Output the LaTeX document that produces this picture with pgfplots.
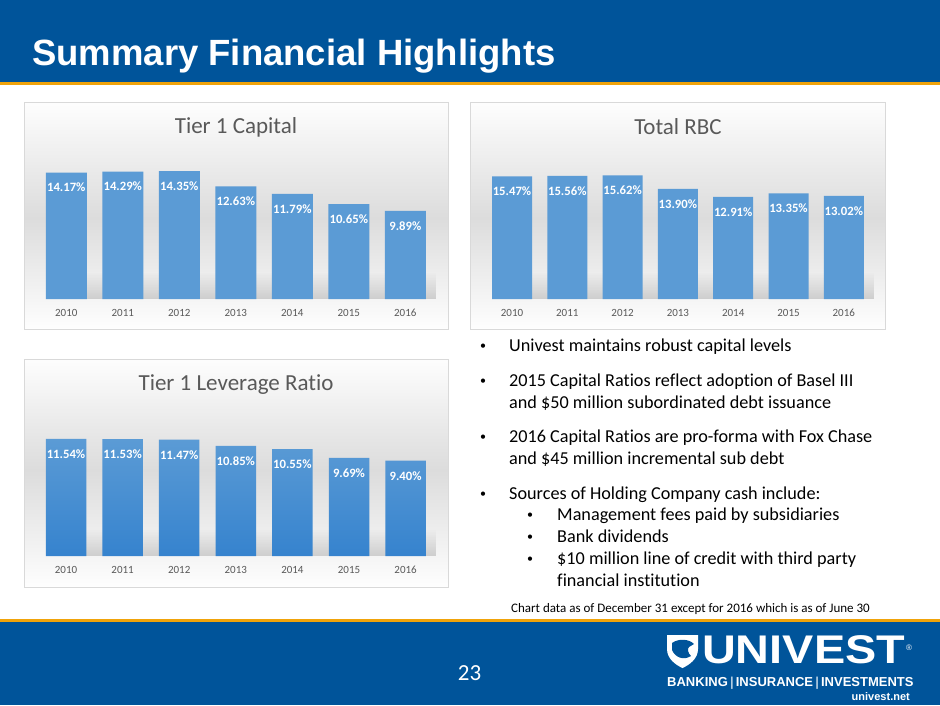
\documentclass[border=0pt]{standalone}
\usepackage{pgfplots}
\pgfplotsset{compat=1.18}
\usepackage{fontspec}
\setmainfont{Carlito}[Ligatures=NoCommon]
\newfontfamily\arialfont{Liberation Sans}
\usetikzlibrary{fadings}
\definecolor{hdrblue}{HTML}{00549A}
\definecolor{gold}{HTML}{F0A30A}
\definecolor{barblue}{HTML}{5B9BD5}
\definecolor{bardark}{HTML}{3683CE}
\definecolor{bggray}{HTML}{DCDCDC}
\definecolor{bgborder}{HTML}{D9D9D9}
\definecolor{txtgray}{HTML}{595959}

\pgfplotstableread{
x y
0 14.17
1 14.29
2 14.35
3 12.63
4 11.79
5 10.65
6 9.89
}\tierone
\pgfplotstableread{
x y
0 15.47
1 15.56
2 15.62
3 13.90
4 12.91
5 13.35
6 13.02
}\totalrbc
\pgfplotstableread{
x y
0 11.54
1 11.53
2 11.47
3 10.85
4 10.55
5 9.69
6 9.40
}\leverage

\pgfplotsset{
  barchart/.style={
    scale only axis,
    anchor=south west,
    xmin=-0.5, xmax=6.5, ymin=0,
    axis line style={draw=none},
    tick style={draw=none},
    ytick=\empty,
    xtick={0,...,6},
    xticklabels={2010,2011,2012,2013,2014,2015,2016},
    xticklabel style={anchor=center, inner sep=0pt, yshift=-14pt, font=\fontsize{11}{13}\selectfont, text=txtgray},
    clip=false,
    /pgf/number format/assume math mode=true,
    nodes near coords={\pgfmathprintnumber[fixed,fixed zerofill,precision=2]{\pgfplotspointmeta}\%},
    every node near coord/.append style={anchor=center, inner sep=0pt, yshift=-15pt, text=white, font=\bfseries\fontsize{12.7}{14}\selectfont},
  },
}

\newcommand{\chartbox}[5]{%
  \shade[top color=white!96!bggray, bottom color=bggray] (#1,#2) rectangle (#3,#5);
  \shade[top color=bggray, bottom color=white!97!bggray] (#1,#5) rectangle (#3,#4);
  \draw[bgborder, line width=1pt] (#1,#2) rectangle (#3,#4);
}

\begin{document}
\begin{tikzpicture}[x=1pt,y=-1pt]
\useasboundingbox (0,0) rectangle (940,705);
\fill[white] (0,0) rectangle (940,705);
% header
\fill[hdrblue] (0,0) rectangle (940,82);
\fill[gold] (0,82) rectangle (940,85);
\node[anchor=base west, inner sep=0pt, text=white, font=\arialfont\bfseries\fontsize{36.5}{40}\selectfont] at (32,65) {Summary Financial Highlights};
% footer
\fill[gold] (0,619) rectangle (940,622);
\fill[hdrblue] (0,622) rectangle (940,705);
\node[anchor=center, inner sep=0pt, text=white, font=\fontsize{23}{26}\selectfont] at (469.5,673) {23};
% logo
\begin{scope}[shift={(667,635)}]
  \fill[white] (0,0) -- (31,0) -- (31,14) .. controls (31,24) and (22,30) .. (15.5,33) .. controls (9,30) and (0,24) .. (0,14) -- cycle;
  \fill[hdrblue] (5,8) .. controls (12,3) and (22,4) .. (27,9) -- (22,12) .. controls (20,14) and (21,18) .. (24,21) .. controls (16,26) and (8,22) .. (5,15) -- cycle;
\end{scope}
\node[anchor=base west, inner sep=0pt, text=white, font=\arialfont\bfseries\fontsize{40}{44}\selectfont] at (702,663.5) {\scalebox{1.17}[1]{UNIVEST}};
\node[anchor=center, inner sep=0pt, text=white, font=\arialfont\fontsize{8}{8}\selectfont] at (909,648) {®};
\node[anchor=base west, inner sep=0pt, text=white, font=\arialfont\bfseries\fontsize{13}{15}\selectfont] at (667,686) {BANKING\,\textcolor{white!70!hdrblue}{|}\,INSURANCE\,\textcolor{white!70!hdrblue}{|}\,INVESTMENTS};
\node[anchor=base east, inner sep=0pt, text=white, font=\arialfont\bfseries\fontsize{11}{13}\selectfont] at (910,700) {univest.net};

% chart boxes
\chartbox{24}{102}{448}{329}{218}
\chartbox{470}{102}{885}{329}{218}
\chartbox{24}{359}{448}{587}{470}

% floor shadows
\fill[black!55, path fading=north, opacity=0.3] (58,272) rectangle (436,299);
\fill[black!55, path fading=north, opacity=0.3] (503,272) rectangle (874,299);
\fill[black!55, path fading=north, opacity=0.3] (58,529) rectangle (436,556);

% chart titles
\node[anchor=center, inner sep=0pt, text=txtgray, font=\fontsize{23}{26}\selectfont] at (236,127) {Tier 1 Capital};
\node[anchor=center, inner sep=0pt, text=txtgray, font=\fontsize{23}{26}\selectfont] at (678,127) {Total RBC};
\node[anchor=center, inner sep=0pt, text=txtgray, font=\fontsize{23}{26}\selectfont] at (236,385) {Tier 1 Leverage Ratio};

% Tier 1 Capital
\begin{axis}[barchart, at={(38.05pt,-299pt)}, x=56.5pt, y=8.92pt, ymax=16]
\addplot[ybar, bar width=41pt, fill=barblue, draw=none] table[x=x,y=y] {\tierone};
\end{axis}
% Total RBC
\begin{axis}[barchart, at={(484.35pt,-299pt)}, x=55.3pt, y=7.92pt, ymax=18]
\addplot[ybar, bar width=40pt, fill=barblue, draw=none] table[x=x,y=y] {\totalrbc};
\end{axis}
% Tier 1 Leverage Ratio
\begin{axis}[barchart, at={(37.7pt,-556pt)}, x=56.6pt, y=10.14pt, ymax=13]
\addplot[ybar, bar width=40.5pt, top color=barblue, bottom color=bardark, draw=none] table[x=x,y=y] {\leverage};
\end{axis}

% bullets
\begin{scope}[every node/.style={anchor=base west, inner sep=0pt, text=black, font=\fontsize{18.2}{22}\selectfont}]
\node[anchor=center, font=\fontsize{12}{12}\selectfont] at (483,346.5) {•};
\node at (509,351) {Univest maintains robust capital levels};
\node[anchor=center, font=\fontsize{12}{12}\selectfont] at (483,381.5) {•};
\node at (509,386) {2015 Capital Ratios reflect adoption of Basel III};
\node at (509,408) {and \$50 million subordinated debt issuance};
\node[anchor=center, font=\fontsize{12}{12}\selectfont] at (483,437.5) {•};
\node at (509,442) {2016 Capital Ratios are pro-forma with Fox Chase};
\node at (509,464) {and \$45 million incremental sub debt};
\node[anchor=center, font=\fontsize{12}{12}\selectfont] at (483,494.5) {•};
\node at (509,499) {Sources of Holding Company cash include:};
\node[anchor=center, font=\fontsize{12}{12}\selectfont] at (530,515.5) {•};
\node at (557,520) {Management fees paid by subsidiaries};
\node[anchor=center, font=\fontsize{12}{12}\selectfont] at (530,537.5) {•};
\node at (557,542) {Bank dividends};
\node[anchor=center, font=\fontsize{12}{12}\selectfont] at (530,559.5) {•};
\node at (557,564) {\$10 million line of credit with third party};
\node at (557,586) {financial institution};
\end{scope}
\node[anchor=base west, inner sep=0pt, font=\fontsize{13}{15}\selectfont] at (511,612) {Chart data as of December 31 except for 2016 which is as of June 30};
\end{tikzpicture}
\end{document}
